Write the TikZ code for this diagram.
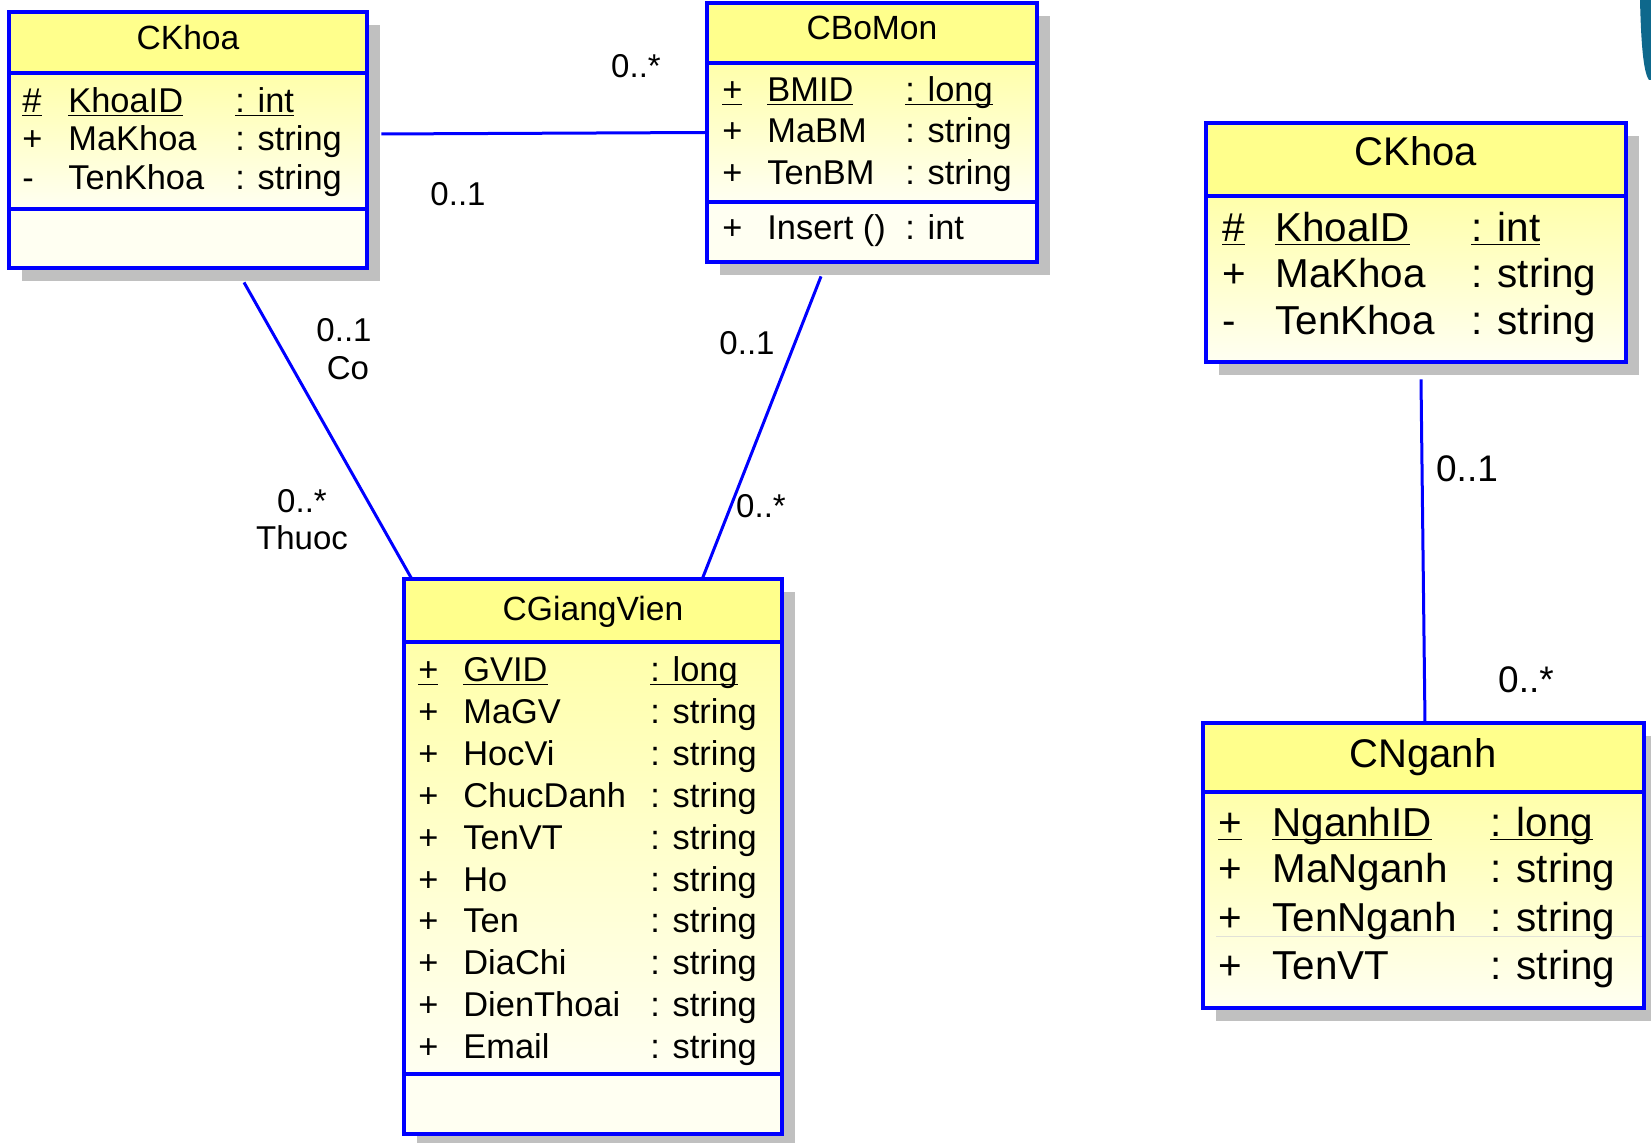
\documentclass[tikz,border=0pt]{standalone}
\usepackage{fontspec}
\setmainfont{Liberation Sans}
\usetikzlibrary{fit,calc}
\definecolor{umlblue}{RGB}{0,0,255}
\definecolor{headyel}{RGB}{255,255,140}
\definecolor{bodytop}{RGB}{255,255,170}
\definecolor{bodybot}{RGB}{255,255,242}
\definecolor{shadowg}{RGB}{192,192,192}
\definecolor{faintsep}{RGB}{225,225,215}
\definecolor{tealc}{RGB}{14,104,140}
\newsavebox\ulbox
\newcommand\ulx[1]{\sbox\ulbox{#1}\rlap{\rule[-1.6pt]{\wd\ulbox}{0.8pt}}\usebox\ulbox}
\newcommand\fa{\fontsize{17.2}{20}\selectfont}
\newcommand\fat{\fontsize{16.8}{20}\selectfont}
\newcommand\fb{\fontsize{20.2}{24}\selectfont}
\newcommand\fbt{\fontsize{20}{24}\selectfont}
\newcommand\fla{\fontsize{16.5}{19}\selectfont}
\newcommand\flb{\fontsize{18.5}{22}\selectfont}
\newcommand\curfont{\fa}
\newcommand\curtfont{\fat}
\newcommand\xs{0}\newcommand\xn{0}\newcommand\xt{0}
\tikzset{
  border/.style={draw=umlblue, line width=1.7pt},
  assoc/.style={draw=umlblue, line width=1.5pt},
  txt/.style={anchor=base west, inner sep=0pt, font=\curfont},
  ttl/.style={anchor=base, inner sep=0pt, font=\curtfont},
  lbla/.style={anchor=base, inner sep=0pt, font=\fla},
  lblb/.style={anchor=base, inner sep=0pt, font=\flb},
}
% #1 name, #2 x1, #3 y1, #4 x2, #5 y2, #6 header line y, #7 attribute separator y
\newcommand\umlbox[7]{%
  \fill[shadowg] (#2+13,#3+13) rectangle (#4+13,#5+13);
  \shade[top color=bodytop,bottom color=bodybot] (#2,#6) rectangle (#4,#7);
  \fill[bodybot] (#2,#7) rectangle (#4,#5);
  \fill[headyel] (#2,#3) rectangle (#4,#6);
  \draw[border] (#2,#6) -- (#4,#6) (#2,#7) -- (#4,#7);
  \draw[border] (#2,#3) rectangle (#4,#5);
  \node[fit={(#2,#3) (#4,#5)}, inner sep=0pt] (#1) {};
}
% #1 id, #2 baseline y, #3 symbol, #4 name, #5 type
\newcommand\arow[5]{%
  \node[txt] (#1s) at (\xs,#2) {#3};
  \node[txt] (#1n) at (\xn,#2) {#4};
  \node[txt] (#1t) at (\xt,#2) {#5};
}
\begin{document}
\begin{tikzpicture}[x=0.5pt,y=-0.5pt]
\useasboundingbox (0,0) rectangle (1651,1143);
\fill[white] (0,0) rectangle (1651,1143);

% teal corner shape
\fill[tealc] (1640,0) .. controls (1641,40) and (1643,72) .. (1649,80) -- (1651,80) -- (1651,0) -- cycle;

% ---- CKhoa (left)
\umlbox{k1}{9}{12}{367}{268}{73}{209}
\node[ttl] (k1h) at (188,50) {CKhoa};
\renewcommand\xs{22}\renewcommand\xn{68}\renewcommand\xt{235}
\arow{k1a}{113}{\ulx{\#}}{\ulx{KhoaID}}{\ulx{: int}}
\arow{k1b}{151}{+}{MaKhoa}{: string}
\arow{k1c}{190}{-}{TenKhoa}{: string}

% ---- CBoMon
\umlbox{bm}{707}{3}{1037}{262}{63}{202}
\node[ttl] (bmh) at (872,40) {CBoMon};
\renewcommand\xs{722}\renewcommand\xn{767}\renewcommand\xt{905}
\arow{bma}{102}{\ulx{+}}{\ulx{BMID}}{\ulx{: long}}
\arow{bmb}{143}{+}{MaBM}{: string}
\arow{bmc}{185}{+}{TenBM}{: string}
\arow{bmd}{240}{+}{Insert ()}{: int}

% ---- CGiangVien
\umlbox{gv}{404}{579}{782}{1134}{642}{1074}
\node[ttl] (gvh) at (593,621) {CGiangVien};
\renewcommand\xs{418}\renewcommand\xn{463}\renewcommand\xt{650}
\arow{gva}{682}{\ulx{+}}{\ulx{GVID}}{\ulx{: long}}
\arow{gvb}{724}{+}{MaGV}{: string}
\arow{gvc}{766}{+}{HocVi}{: string}
\arow{gvd}{808}{+}{ChucDanh}{: string}
\arow{gve}{850}{+}{TenVT}{: string}
\arow{gvf}{892}{+}{Ho}{: string}
\arow{gvg}{933}{+}{Ten}{: string}
\arow{gvh}{975}{+}{DiaChi}{: string}
\arow{gvi}{1017}{+}{DienThoai}{: string}
\arow{gvj}{1059}{+}{Email}{: string}

% ---- CKhoa (right)
\umlbox{k2}{1206}{123}{1626}{362}{196}{362}
\renewcommand\curfont{\fb}
\renewcommand\curtfont{\fbt}
\node[ttl] (k2h) at (1416,166) {CKhoa};
\renewcommand\xs{1222}\renewcommand\xn{1275}\renewcommand\xt{1471}
\arow{k2a}{242}{\ulx{\#}}{\ulx{KhoaID}}{\ulx{: int}}
\arow{k2b}{288}{+}{MaKhoa}{: string}
\arow{k2c}{335}{-}{TenKhoa}{: string}

% ---- CNganh
\umlbox{ng}{1203}{723}{1644}{1008}{792}{1008}
\draw[faintsep, line width=0.5pt] (1216,937) -- (1642,937);
\node[ttl] (ngh) at (1423,768) {CNganh};
\renewcommand\xs{1218}\renewcommand\xn{1272}\renewcommand\xt{1490}
\arow{nga}{837}{\ulx{+}}{\ulx{NganhID}}{\ulx{: long}}
\arow{ngb}{883}{+}{MaNganh}{: string}
\arow{ngc}{932}{+}{TenNganh}{: string}
\arow{ngd}{980}{+}{TenVT}{: string}

% ---- connectors
\draw[assoc] ($(k1.east)+(14,-6)$) -- (bm.west);
\draw[assoc] ($(k1.south)+(56,14)$) -- ($(gv.north west)+(8,0)$);
\draw[assoc] ($(bm.south)+(-51,14)$) -- ($(gv.north east)+(-80,0)$);
\draw[assoc] ($(k2.south)+(5,17)$) -- ($(ng.north)+(1.5,0)$);

% ---- multiplicity / role labels
\node[lbla] (m1) at (636,78) {0..*};
\node[lbla] (m2) at (458,206) {0..1};
\node[lbla] (m3) at (344,342) {0..1};
\node[lbla] (r1) at (348,380) {Co};
\node[lbla] (m4) at (302,513) {0..*};
\node[lbla] (r2) at (302,550) {Thuoc};
\node[lbla] (m5) at (747,355) {0..1};
\node[lbla] (m6) at (761,518) {0..*};
\node[lblb] (m7) at (1467,482) {0..1};
\node[lblb] (m8) at (1526,693) {0..*};
\end{tikzpicture}
\end{document}
